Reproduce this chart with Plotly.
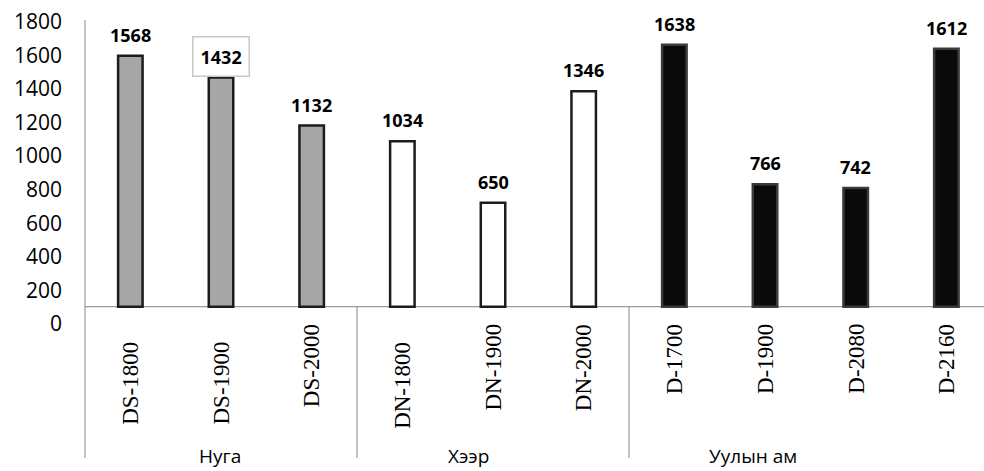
import plotly.graph_objects as go

# ---- data ----
categories = ["DS-1800", "DS-1900", "DS-2000", "DN-1800", "DN-1900", "DN-2000",
              "D-1700", "D-1900", "D-2080", "D-2160"]
values = [1568, 1432, 1132, 1034, 650, 1346, 1638, 766, 742, 1612]
groups = ["Нуга", "Нуга", "Нуга", "Хээр", "Хээр", "Хээр",
          "Уулын ам", "Уулын ам", "Уулын ам", "Уулын ам"]
group_names = ["Нуга", "Хээр", "Уулын ам"]
y_tick_values = [0, 200, 400, 600, 800, 1000, 1200, 1400, 1600, 1800]
y_tick_labels = ["0", "200", "400", "600", "800", "1000", "1200", "1400", "1600", "1800"]

# ---- styles / layout constants ----
W, H = 984, 471
ML = 85
fills = {"Нуга": "#a6a6a6", "Хээр": "#ffffff", "Уулын ам": "#0a0a0a"}
edges = {"Нуга": "#1c1c1c", "Хээр": "#1c1c1c", "Уулын ам": "#3a3a3a"}
label_top_px = [340, 340, 322, 340, 322, 322, 322, 322, 322, 322]
group_label_px = [220, 468, 753]
boxed_label = 1  # index of the value label drawn in a white callout box


def py(p):
    return 1 - p / H


def px_x(p):
    return (p - ML) / (W - ML)


fig = go.Figure()
fig.add_trace(go.Bar(
    x=categories, y=values, width=0.27,
    marker=dict(color=[fills[g] for g in groups],
                line=dict(color=[edges[g] for g in groups], width=2.5)),
    hoverinfo="x+y", showlegend=False,
))
# carrier trace so the tick-label axis is drawn
fig.add_trace(go.Scatter(x=[categories[0]], y=[y_tick_values[0]], yaxis="y2",
                         mode="markers", marker=dict(opacity=0, size=1),
                         hoverinfo="skip", showlegend=False))

annotations = []
# value labels
for i, (c, v) in enumerate(zip(categories, values)):
    a = dict(x=c, y=v, xref="x", yref="y", text=f"<b>{v}</b>", showarrow=False,
             yanchor="middle", yshift=21,
             font=dict(family="Open Sans", size=18, color="#000"))
    if i == boxed_label:
        a.update(bgcolor="#ffffff", bordercolor="#c8c8c8", borderwidth=1.5, borderpad=7)
    annotations.append(a)
# category labels (rotated)
for c, t in zip(categories, label_top_px):
    annotations.append(dict(x=c, y=py(t), xref="x", yref="paper", text=c,
                            showarrow=False, textangle=-90, yanchor="top",
                            xanchor="center",
                            font=dict(family="Liberation Serif, Times New Roman, serif",
                                      size=23, color="#000")))
# group labels
for g, gx in zip(group_names, group_label_px):
    annotations.append(dict(x=px_x(gx), y=py(456), xref="paper", yref="paper", text=g,
                            showarrow=False, xanchor="center", yanchor="middle",
                            font=dict(family="Open Sans", size=19, color="#000")))

line_col = "#9a9a9a"
shapes = [
    # left axis line
    dict(type="line", xref="paper", yref="paper", x0=0, x1=0, y0=py(458), y1=py(20),
         line=dict(color=line_col, width=1.2), layer="below"),
    # baseline
    dict(type="line", xref="paper", yref="y", x0=0, x1=1, y0=0, y1=0,
         line=dict(color=line_col, width=1.2), layer="below"),
    # group dividers
    dict(type="line", xref="x", yref="paper", x0=2.5, x1=2.5, y0=py(458), y1=py(307),
         line=dict(color=line_col, width=1.2), layer="below"),
    dict(type="line", xref="x", yref="paper", x0=5.5, x1=5.5, y0=py(458), y1=py(307),
         line=dict(color=line_col, width=1.2), layer="below"),
]

fig.update_layout(
    width=W, height=H,
    margin=dict(l=ML, r=0, t=0, b=0, pad=0),
    paper_bgcolor="#ffffff", plot_bgcolor="#ffffff",
    font=dict(family="Open Sans", color="#000"),
    xaxis=dict(type="category", range=[-0.5, 9.415], showticklabels=False,
               showgrid=False, zeroline=False, showline=False, ticks=""),
    yaxis=dict(range=[-1027, 1917], showticklabels=False, showgrid=False,
               zeroline=False, showline=False, ticks=""),
    yaxis2=dict(range=[-875, 1929], overlaying="y", side="left",
                tickmode="array", tickvals=y_tick_values, ticktext=y_tick_labels,
                showgrid=False, zeroline=False, showline=False, ticks="",
                ticklabelstandoff=22,
                tickfont=dict(family="Open Sans", size=21, color="#000")),
    annotations=annotations, shapes=shapes,
    bargap=0.73,
)

fig.write_html("out.html")
